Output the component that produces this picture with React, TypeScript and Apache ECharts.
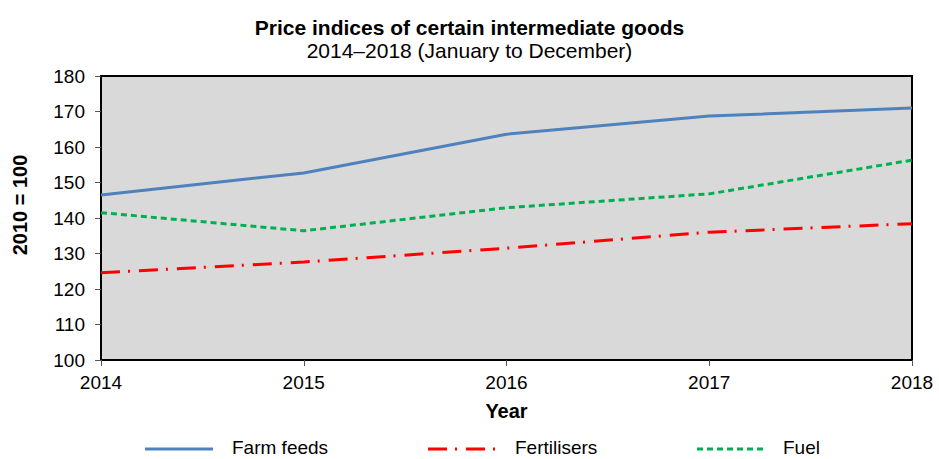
import React, { useEffect, useRef } from "react";
import * as echarts from "echarts";

const years = ["2014", "2015", "2016", "2017", "2018"];
const farmFeeds = [146.5, 152.7, 163.6, 168.7, 171.0];
const fertilisers = [124.6, 127.6, 131.5, 136.0, 138.4];
const fuel = [141.5, 136.4, 142.9, 146.8, 156.3];

const seriesNames = ["Farm feeds", "Fertilisers", "Fuel"];
const seriesColors = ["#4F81BD", "#FF0000", "#00B050"];
const seriesDash: (number[] | "solid")[] = ["solid", [19, 8, 2, 9], [6, 4]];

const FONT = "'Liberation Sans', Arial, sans-serif";

export default function App() {
  const ref = useRef<HTMLDivElement>(null);
  useEffect(() => {
    if (!ref.current) return;
    const chart = echarts.init(ref.current, null, { renderer: "svg" });

    const legendX = [
      { x1: 145, x2: 213, tx: 232 },
      { x1: 428, x2: 497, tx: 515 },
      { x1: 697, x2: 765, tx: 783 },
    ];
    const legendY = 449;
    const extraGraphics: any[] = [
      {
        type: "text",
        x: 20,
        y: 205,
        rotation: Math.PI / 2,
        style: {
          text: "2010 = 100",
          fontFamily: FONT,
          fontSize: 20,
          fontWeight: "bold",
          fill: "#000",
          align: "center",
          verticalAlign: "middle",
        },
      },
    ];
    seriesNames.forEach((name, i) => {
      const p = legendX[i];
      extraGraphics.push({
        type: "line",
        shape: { x1: p.x1, y1: legendY, x2: p.x2, y2: legendY },
        style: {
          stroke: seriesColors[i],
          lineWidth: 3,
          lineDash: seriesDash[i] === "solid" ? null : seriesDash[i],
        },
      });
      extraGraphics.push({
        type: "text",
        x: p.tx,
        y: legendY - 2,
        style: {
          text: name,
          fontFamily: FONT,
          fontSize: 19,
          lineHeight: 19,
          fill: "#000",
          verticalAlign: "middle",
        },
      });
    });

    const data = [farmFeeds, fertilisers, fuel];

    chart.setOption({
      animation: false,
      backgroundColor: "#fff",
      textStyle: { fontFamily: FONT },
      title: {
        text: "Price indices of certain intermediate goods",
        subtext: "2014–2018 (January to December)",
        left: "center",
        top: 12,
        itemGap: 2,
        textStyle: { fontFamily: FONT, fontSize: 21, fontWeight: "bold", color: "#000" },
        subtextStyle: { fontFamily: FONT, fontSize: 21, color: "#000" },
      },
      graphic: extraGraphics,
      grid: {
        left: 101,
        right: 27,
        top: 76,
        bottom: 99,
        show: true,
        backgroundColor: "#D9D9D9",
        borderColor: "#000",
        borderWidth: 2,
        containLabel: false,
      },
      xAxis: {
        type: "category",
        data: years,
        boundaryGap: false,
        name: "Year",
        nameLocation: "middle",
        nameGap: 41,
        nameTextStyle: { fontFamily: FONT, fontSize: 20, fontWeight: "bold", color: "#000" },
        axisLine: { lineStyle: { color: "#000", width: 2 } },
        axisTick: { alignWithLabel: true, length: 6, lineStyle: { color: "#555" } },
        axisLabel: { fontFamily: FONT, fontSize: 19, color: "#000", margin: 13 },
        splitLine: { show: false },
      },
      yAxis: {
        type: "value",
        min: 100,
        max: 180,
        interval: 10,
        axisLine: { show: true, lineStyle: { color: "#000", width: 2 } },
        axisTick: { show: true, length: 6, lineStyle: { color: "#555" } },
        axisLabel: { fontFamily: FONT, fontSize: 19, color: "#000", margin: 16 },
        splitLine: { show: false },
      },
      series: seriesNames.map((name, i) => ({
        name,
        type: "line",
        data: data[i],
        symbol: "none",
        lineStyle: { color: seriesColors[i], width: 3, type: seriesDash[i] },
        itemStyle: { color: seriesColors[i] },
      })),
    });
    return () => chart.dispose();
  }, []);
  return (
    <div
      ref={ref}
      style={{ position: "fixed", left: 0, top: 0, width: 939, height: 459 }}
    />
  );
}
